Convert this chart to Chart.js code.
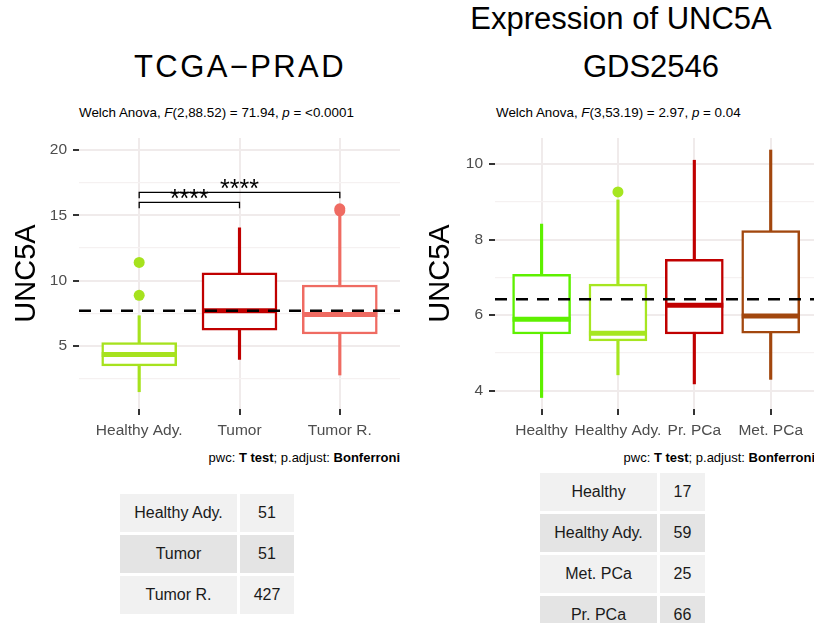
<!DOCTYPE html>
<html>
<head>
<meta charset="utf-8">
<script src="https://cdn.jsdelivr.net/npm/chart.js@4"></script>
<style>
  body { margin: 0; background: #fff; font-family: "Liberation Sans", Arial, sans-serif; }
  #page { position: relative; width: 814px; height: 623px; overflow: hidden; }
  .txt { position: absolute; white-space: nowrap; line-height: 1; color: #000; }
  .title { font-size: 31px; transform: translateX(-50%); }
  .sub { font-size: 13.4px; }
  .cap { font-size: 13px; transform: translateX(-100%); }
  canvas { position: absolute; }
  table { position: absolute; border-spacing: 3px; border-collapse: separate; font-size: 16px; color: #1a1a1a; }
  td { text-align: center; padding: 0; height: 38px; }
  tr:nth-child(odd) td { background: #f1f1f1; }
  tr:nth-child(even) td { background: #e4e4e4; }
</style>
</head>
<body>
<div id="page">
  <div class="txt title" style="left:621px; top:3px;">Expression of UNC5A</div>
  <div class="txt title" style="left:240px; top:51px; letter-spacing:2.4px;">TCGA−PRAD</div>
  <div class="txt title" style="left:651px; top:51px;">GDS2546</div>
  <div class="txt sub" style="left:79px; top:106px;">Welch Anova, <i>F</i>(2,88.52) = 71.94, <i>p</i> = &lt;0.0001</div>
  <div class="txt sub" style="left:496px; top:106px;">Welch Anova, <i>F</i>(3,53.19) = 2.97, <i>p</i> = 0.04</div>

  <canvas id="left" width="407" height="310" style="left:0; top:130px;"></canvas>
  <canvas id="right" width="404" height="310" style="left:410px; top:130px;"></canvas>

  <div class="txt cap" style="left:400px; top:451px;">pwc: <b>T test</b>; p.adjust: <b>Bonferroni</b></div>
  <div class="txt cap" style="left:815px; top:451px;">pwc: <b>T test</b>; p.adjust: <b>Bonferroni</b></div>

  <table id="leftTable" style="left:117px; top:491px;"></table>
  <table id="rightTable" style="left:537px; top:470px;"></table>
</div>
<script>
// TCGA-PRAD box statistics
const leftGroups = ['Healthy Ady.', 'Tumor', 'Tumor R.'];
const leftColors = ['#a6e21e', '#c00000', '#ef6b62'];
const leftLow = [1.5, 3.98, 2.78];
const leftQ1 = [3.48, 6.22, 5.92];
const leftMedian = [4.36, 7.70, 7.42];
const leftQ3 = [5.27, 10.61, 9.67];
const leftHigh = [7.32, 14.05, 15.3];
const leftOutliers = [[11.4, 8.88], [], [15.35, 15.5]];
const leftMean = 7.70;
const leftMajorTicks = [5, 10, 15, 20];
const leftMinorTicks = [2.5, 7.5, 12.5, 17.5];
// pairwise comparisons: from group, to group, bracket height, label
const leftPairs = [[1, 2, 16.0, '****'], [1, 3, 16.76, '****']];
const leftCountGroups = ['Healthy Ady.', 'Tumor', 'Tumor R.'];
const leftCounts = [51, 51, 427];

// GDS2546 box statistics
const rightGroups = ['Healthy', 'Healthy Ady.', 'Pr. PCa', 'Met. PCa'];
const rightColors = ['#5ef000', '#a6e620', '#c00000', '#a2470e'];
const rightLow = [3.82, 4.42, 4.18, 4.30];
const rightQ1 = [5.5, 5.32, 5.5, 5.52];
const rightMedian = [5.89, 5.52, 6.26, 5.98];
const rightQ3 = [7.08, 6.82, 7.48, 8.24];
const rightHigh = [8.41, 9.05, 10.1, 10.37];
const rightOutliers = [[], [9.26], [], []];
const rightMean = 6.42;
const rightMajorTicks = [4, 6, 8, 10];
const rightMinorTicks = [5, 7, 9];
const rightPairs = [];
const rightCountGroups = ['Healthy', 'Healthy Ady.', 'Met. PCa', 'Pr. PCa'];
const rightCounts = [17, 59, 25, 66];

const FONT = '"Liberation Sans", Arial, sans-serif';
const GRID_MAJOR = '#f0ebeb';
const GRID_MINOR = '#f5f1f1';

// dashed reference line and significance brackets
const overlayPlugin = {
  id: 'overlay',
  afterDatasetsDraw(chart, args, opts) {
    const { ctx, chartArea, scales: { x, y } } = chart;
    ctx.save();
    const ym = y.getPixelForValue(opts.mean);
    ctx.strokeStyle = '#000';
    ctx.lineWidth = 2.5;
    ctx.setLineDash([12, 9]);
    ctx.beginPath();
    ctx.moveTo(chartArea.left, ym);
    ctx.lineTo(chartArea.right, ym);
    ctx.stroke();
    ctx.setLineDash([]);

    ctx.lineWidth = 1.3;
    ctx.font = '25px ' + FONT;
    ctx.fillStyle = '#000';
    ctx.textAlign = 'center';
    ctx.textBaseline = 'alphabetic';
    opts.pairs.forEach(([a, b, h, label]) => {
      const x1 = x.getPixelForValue(a);
      const x2 = x.getPixelForValue(b);
      const yb = y.getPixelForValue(h);
      const yt = y.getPixelForValue(h - opts.tip);
      ctx.beginPath();
      ctx.moveTo(x1, yt);
      ctx.lineTo(x1, yb);
      ctx.lineTo(x2, yb);
      ctx.lineTo(x2, yt);
      ctx.stroke();
      ctx.fillText(label, (x1 + x2) / 2, yb + 5);
    });
    ctx.restore();
  }
};

function drawBoxChart(id, cfg) {
  const pos = cfg.groups.map((g, i) => i + 1);
  const yTicks = cfg.major.concat(cfg.minor).sort((a, b) => a - b);
  const outlierPts = [];
  const outlierCols = [];
  cfg.outliers.forEach((list, i) => list.forEach(v => {
    outlierPts.push({ x: i + 1, y: v });
    outlierCols.push(cfg.colors[i]);
  }));

  return new Chart(document.getElementById(id), {
    type: 'bar',
    data: {
      datasets: [
        {
          // whiskers
          data: pos.map((p, i) => ({ x: p, y: [cfg.low[i], cfg.high[i]] })),
          backgroundColor: cfg.colors,
          borderWidth: 0,
          barThickness: 2.5,
          grouped: false,
          order: 4
        },
        {
          // boxes
          data: pos.map((p, i) => ({ x: p, y: [cfg.q1[i], cfg.q3[i]] })),
          backgroundColor: '#fff',
          borderColor: cfg.colors,
          borderWidth: 2.5,
          borderSkipped: false,
          barThickness: cfg.boxWidth,
          grouped: false,
          order: 3
        },
        {
          // medians
          type: 'scatter',
          data: pos.map((p, i) => ({ x: p, y: cfg.median[i] })),
          pointStyle: 'line',
          pointRadius: cfg.boxWidth / 2,
          pointBorderWidth: 5,
          pointBorderColor: cfg.colors,
          order: 2
        },
        {
          // outliers
          type: 'scatter',
          data: outlierPts,
          pointRadius: 5.5,
          pointBackgroundColor: outlierCols,
          pointBorderWidth: 0,
          order: 1
        }
      ]
    },
    options: {
      responsive: false,
      animation: false,
      events: [],
      layout: { autoPadding: false, padding: { top: 8, right: cfg.padRight, left: 0, bottom: 0 } },
      plugins: {
        legend: { display: false },
        tooltip: { enabled: false },
        overlay: { mean: cfg.mean, pairs: cfg.pairs, tip: cfg.tip }
      },
      scales: {
        x: {
          type: 'linear',
          min: cfg.xMin,
          max: cfg.xMax,
          offset: false,
          afterBuildTicks: s => { s.ticks = pos.map(v => ({ value: v })); },
          afterFit: s => { s.height = 31; s.paddingLeft = 0; s.paddingRight = 0; },
          border: { display: false },
          grid: {
            offset: false,
            color: GRID_MAJOR,
            lineWidth: 2,
            tickColor: '#333',
            tickWidth: 2,
            tickLength: 6
          },
          ticks: {
            autoSkip: false,
            maxRotation: 0,
            minRotation: 0,
            padding: 6,
            color: '#4d4d4d',
            font: { family: FONT, size: 15.5 },
            callback: v => cfg.groups[v - 1]
          }
        },
        y: {
          type: 'linear',
          min: cfg.yMin,
          max: cfg.yMax,
          afterBuildTicks: s => { s.ticks = yTicks.map(v => ({ value: v })); },
          afterFit: s => { s.width = cfg.axisWidth; s.paddingTop = 0; s.paddingBottom = 0; },
          border: { display: false },
          grid: {
            color: c => (cfg.major.includes(c.tick.value) ? GRID_MAJOR : GRID_MINOR),
            lineWidth: c => (cfg.major.includes(c.tick.value) ? 2 : 1.3),
            tickColor: c => (cfg.major.includes(c.tick.value) ? '#333' : 'rgba(0,0,0,0)'),
            tickWidth: 2,
            tickLength: 6
          },
          ticks: {
            padding: 6,
            color: '#4d4d4d',
            font: { family: FONT, size: 15.5 },
            callback: v => (cfg.major.includes(v) ? v : '')
          },
          title: {
            display: true,
            text: 'UNC5A',
            color: '#000',
            font: { family: FONT, size: 29 },
            padding: { top: cfg.titlePad, bottom: 0 }
          }
        }
      }
    },
    plugins: [overlayPlugin]
  });
}

drawBoxChart('left', {
  groups: leftGroups, colors: leftColors,
  low: leftLow, q1: leftQ1, median: leftMedian, q3: leftQ3, high: leftHigh,
  outliers: leftOutliers, mean: leftMean, pairs: leftPairs, tip: 0.46,
  major: leftMajorTicks, minor: leftMinorTicks,
  xMin: 0.4, xMax: 3.6, yMin: 0.18, yMax: 20.92,
  boxWidth: 75, axisWidth: 79, padRight: 7, titlePad: 10
});

drawBoxChart('right', {
  groups: rightGroups, colors: rightColors,
  low: rightLow, q1: rightQ1, median: rightMedian, q3: rightQ3, high: rightHigh,
  outliers: rightOutliers, mean: rightMean, pairs: rightPairs, tip: 0,
  major: rightMajorTicks, minor: rightMinorTicks,
  xMin: 0.39, xMax: 4.567, yMin: 3.516, yMax: 10.688,
  boxWidth: 58, axisWidth: 85, padRight: 0, titlePad: 14
});

function fillTable(id, names, counts) {
  const t = document.getElementById(id);
  names.forEach((n, i) => {
    const tr = document.createElement('tr');
    tr.innerHTML = '<td style="width:117px">' + n + '</td><td style="width:' +
      (id === 'leftTable' ? 54 : 45) + 'px">' + counts[i] + '</td>';
    t.appendChild(tr);
  });
}
fillTable('leftTable', leftCountGroups, leftCounts);
fillTable('rightTable', rightCountGroups, rightCounts);
</script>
</body>
</html>
